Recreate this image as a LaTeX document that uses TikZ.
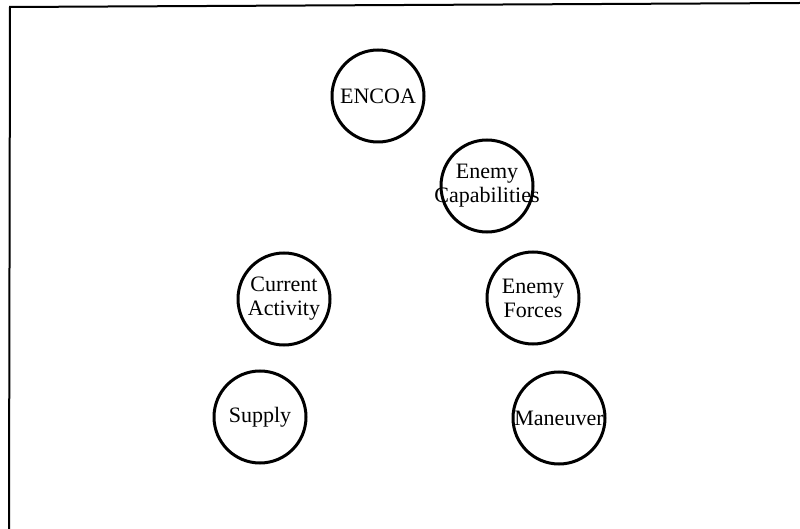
\documentclass[tikz,border=0pt]{standalone}
\usepackage{fontspec}
\setmainfont{Liberation Serif}
\begin{document}
\begin{tikzpicture}[x=1pt, y=-1pt, line width=3pt,
		main/.style = {draw, circle, minimum size=92pt, inner sep=0pt, align=center,
			font=\fontsize{22}{24}\selectfont}]
		\useasboundingbox (0,0) rectangle (800,529);
		\draw[line width=2pt] (9,529) -- (10,7) -- (800,3);
		\node[main] (encoa) at (378,96) {ENCOA};
		\node[main] (cap) at (487,186) {Enemy\\\makebox[0pt]{Capabilities}};
		\node[main] (act) at (284,299) {Current\\Activity};
		\node[main] (frc) at (533,298) {Enemy\\Forces};
		\node[main] (sup) at (260,417) {Supply};
		\node[main] (man) at (559,418) {\makebox[0pt]{Maneuver}};
	\end{tikzpicture}
\end{document}
